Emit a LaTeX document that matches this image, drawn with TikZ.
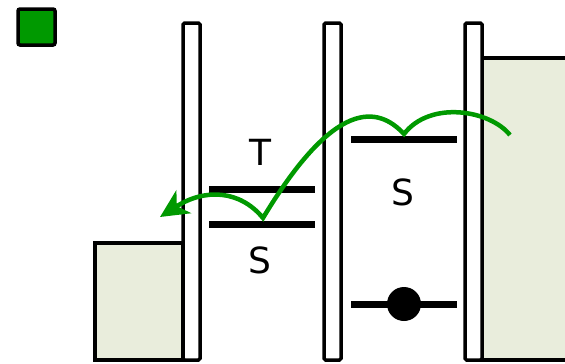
\documentclass[tikz,border=0pt]{standalone}
\usepackage{fontspec}
\setmainfont{DejaVu Sans}
\usetikzlibrary{arrows.meta}
\definecolor{gr}{HTML}{009900}
\definecolor{pale}{HTML}{E9EDDC}
\tikzset{
  barbox/.style={draw=black, line width=3.5pt, fill=white, rounded corners=1.5pt},
  wellbox/.style={draw=black, line width=3.5pt, fill=pale},
  level/.style={line width=7pt},
  lab/.style={font=\fontsize{36}{36}\selectfont, inner sep=0pt},
  path/.style={draw=gr, line width=4.5pt},
}
\begin{document}
\begin{tikzpicture}[x=1pt,y=-1pt]
\useasboundingbox (0,0) rectangle (565,364);
\clip (0,0) rectangle (565,364);
% green square
\draw[fill=gr, line width=3.5pt, rounded corners=2pt] (18,9) rectangle (55,45);
% wells
\draw[wellbox] (95,243) rectangle (183,360);
\draw[wellbox] (575,58) -- (482,58) -- (482,360) -- (575,360) -- cycle;
% barriers
\draw[barbox] (183,23) rectangle (200,360);
\draw[barbox] (324,23) rectangle (341,360);
\draw[barbox] (465,23) rectangle (482,360);
% levels
\draw[level] (209,189) -- (315,189);
\draw[level] (209,224) -- (315,224);
\draw[level] (351,139) -- (457,139);
\draw[level] (351,304) -- (457,304);
\fill (404,304) circle (17);
% labels
\node[lab] (t) at (260,152) {T};
\node[lab] (s1) at (260,260) {S};
\node[lab] (s2) at (403,192) {S};
% green path
\draw[path, -{Stealth[length=28pt,width=27pt,inset=8pt]}]
  (510,135) .. controls (490,110) and (430,100) .. (404,134)
  .. controls (378,106) and (335,98) .. (263,218)
  .. controls (240,190) and (205,188) .. (160,217);
\end{tikzpicture}
\end{document}
